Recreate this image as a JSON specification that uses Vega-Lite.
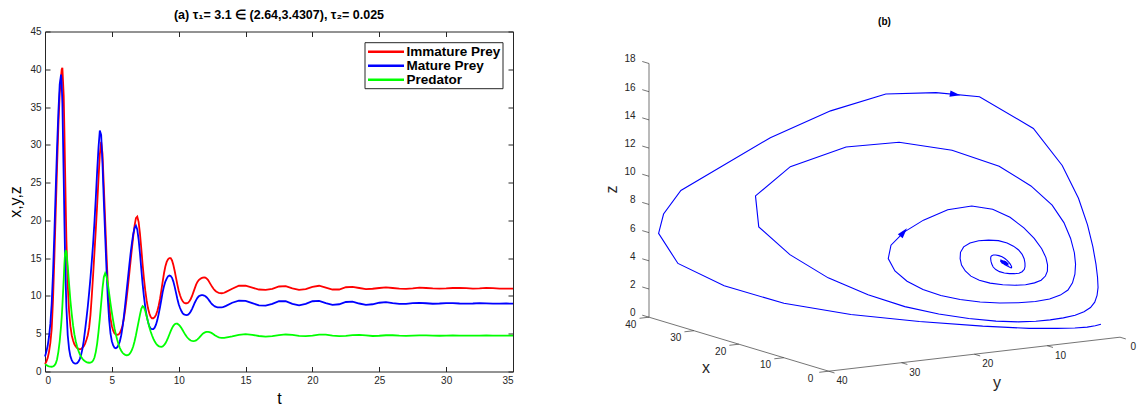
{
  "$schema": "https://vega.github.io/schema/vega-lite/v6.json",
  "padding": {"left": 7, "top": 8.5, "right": 0, "bottom": 0},
  "spacing": 83,
  "config": {
    "view": {"stroke": null},
    "font": "Liberation Sans",
    "axis": {
      "domainColor": "#262626", "tickColor": "#262626", "labelColor": "#262626",
      "labelFont": "Liberation Sans", "labelFontSize": 10,
      "titleFont": "Liberation Sans", "titleFontSize": 16, "titleFontWeight": "normal", "titleColor": "#000000",
      "tickSize": -5, "labelPadding": 9, "grid": false, "domainWidth": 1, "tickWidth": 1, "titlePadding": 5
    }
  },
  "datasets": {
    "sim": [
      {"t":0.0,"x":1.0,"y":2.0,"z":0.95},{"t":0.1,"x":1.3,"y":2.6,"z":0.85},{"t":0.2,"x":1.8,"y":3.4,"z":0.75},{"t":0.3,"x":2.6,"y":4.6,"z":0.68},
      {"t":0.4,"x":3.8,"y":6.3,"z":0.64},{"t":0.5,"x":5.6,"y":9.0,"z":0.63},{"t":0.6,"x":9.5,"y":13.0,"z":0.66},{"t":0.7,"x":15.0,"y":18.3,"z":0.78},
      {"t":0.8,"x":21.0,"y":24.0,"z":1.05},{"t":0.9,"x":27.0,"y":29.5,"z":1.6},{"t":1.0,"x":32.5,"y":34.3,"z":2.6},{"t":1.1,"x":36.8,"y":38.0,"z":4.0},
      {"t":1.2,"x":39.0,"y":39.3,"z":6.0},{"t":1.25,"x":40.0,"y":38.0,"z":7.2},{"t":1.3,"x":40.2,"y":35.5,"z":8.7},{"t":1.4,"x":36.5,"y":25.5,"z":12.2},
      {"t":1.45,"x":32.0,"y":20.0,"z":14.2},{"t":1.5,"x":27.0,"y":15.5,"z":15.6},{"t":1.55,"x":22.0,"y":11.7,"z":15.95},
      {"t":1.6,"x":17.5,"y":8.5,"z":15.9},{"t":1.7,"x":11.5,"y":4.8,"z":14.0},{"t":1.8,"x":8.0,"y":3.0,"z":11.6},{"t":1.9,"x":6.0,"y":2.0,"z":9.4},
      {"t":2.0,"x":4.8,"y":1.5,"z":7.6},{"t":2.1,"x":4.1,"y":1.2,"z":6.1},{"t":2.2,"x":3.6,"y":1.08,"z":4.9},{"t":2.3,"x":3.3,"y":1.05,"z":4.0},
      {"t":2.4,"x":3.1,"y":1.1,"z":3.3},{"t":2.5,"x":3.0,"y":1.3,"z":2.75},{"t":2.6,"x":2.95,"y":1.65,"z":2.3},{"t":2.7,"x":3.0,"y":2.2,"z":1.95},
      {"t":2.8,"x":3.15,"y":3.0,"z":1.68},{"t":2.9,"x":3.35,"y":4.1,"z":1.48},{"t":3.0,"x":3.7,"y":5.5,"z":1.35},{"t":3.1,"x":4.2,"y":7.0,"z":1.25},
      {"t":3.2,"x":4.8,"y":8.6,"z":1.19},{"t":3.3,"x":5.8,"y":10.4,"z":1.16},{"t":3.4,"x":7.5,"y":12.4,"z":1.17},{"t":3.5,"x":10.0,"y":14.6,"z":1.25},
      {"t":3.6,"x":12.8,"y":17.0,"z":1.45},{"t":3.7,"x":15.8,"y":19.8,"z":1.85},{"t":3.8,"x":18.8,"y":23.0,"z":2.6},{"t":3.9,"x":22.0,"y":26.5,"z":3.7},
      {"t":4.0,"x":25.5,"y":29.6,"z":5.2},{"t":4.1,"x":28.7,"y":31.9,"z":7.0},{"t":4.2,"x":30.4,"y":31.3,"z":9.0},{"t":4.3,"x":28.8,"y":27.5,"z":11.0},
      {"t":4.4,"x":24.5,"y":22.5,"z":12.5},{"t":4.5,"x":20.0,"y":18.0,"z":13.0},{"t":4.6,"x":15.5,"y":13.5,"z":12.6},{"t":4.7,"x":11.5,"y":9.5,"z":11.6},
      {"t":4.8,"x":8.8,"y":6.8,"z":10.3},{"t":4.9,"x":7.0,"y":5.0,"z":9.0},{"t":5.0,"x":6.0,"y":4.0,"z":7.8},{"t":5.1,"x":5.4,"y":3.45,"z":6.7},
      {"t":5.2,"x":5.05,"y":3.15,"z":5.7},{"t":5.3,"x":4.9,"y":3.08,"z":4.9},{"t":5.4,"x":4.85,"y":3.2,"z":4.2},{"t":5.5,"x":4.9,"y":3.5,"z":3.6},
      {"t":5.6,"x":5.1,"y":4.0,"z":3.1},{"t":5.7,"x":5.5,"y":4.8,"z":2.75},{"t":5.8,"x":6.1,"y":5.9,"z":2.48},{"t":5.9,"x":7.0,"y":7.3,"z":2.3},
      {"t":6.0,"x":8.2,"y":8.9,"z":2.2},{"t":6.1,"x":9.6,"y":10.6,"z":2.15},{"t":6.2,"x":11.2,"y":12.3,"z":2.17},{"t":6.3,"x":12.9,"y":14.0,"z":2.28},
      {"t":6.4,"x":14.6,"y":15.6,"z":2.5},{"t":6.5,"x":16.3,"y":17.0,"z":2.85},{"t":6.6,"x":17.9,"y":18.2,"z":3.35},{"t":6.7,"x":19.3,"y":19.0,"z":4.0},
      {"t":6.8,"x":20.3,"y":19.3,"z":4.8},{"t":6.9,"x":20.5,"y":18.8,"z":5.7},{"t":7.0,"x":19.8,"y":17.5,"z":6.6},{"t":7.1,"x":18.3,"y":15.7,"z":7.5},
      {"t":7.2,"x":16.3,"y":13.6,"z":8.3},{"t":7.3,"x":14.2,"y":11.6,"z":8.65},{"t":7.4,"x":12.3,"y":9.9,"z":8.5},{"t":7.5,"x":10.7,"y":8.5,"z":8.0},
      {"t":7.6,"x":9.4,"y":7.4,"z":7.3},{"t":7.7,"x":8.4,"y":6.6,"z":6.6},{"t":7.8,"x":7.7,"y":6.0,"z":5.9},{"t":7.9,"x":7.25,"y":5.7,"z":5.3},
      {"t":8.0,"x":7.05,"y":5.6,"z":4.8},{"t":8.1,"x":7.05,"y":5.62,"z":4.35},{"t":8.2,"x":7.2,"y":5.8,"z":4.0},{"t":8.3,"x":7.5,"y":6.2,"z":3.7},
      {"t":8.4,"x":8.0,"y":6.8,"z":3.5},{"t":8.5,"x":8.7,"y":7.6,"z":3.35},{"t":8.6,"x":9.6,"y":8.5,"z":3.28},{"t":8.7,"x":10.7,"y":9.5,"z":3.27},
      {"t":8.8,"x":11.9,"y":10.5,"z":3.33},{"t":8.9,"x":13.0,"y":11.3,"z":3.48},{"t":9.0,"x":13.9,"y":11.9,"z":3.72},{"t":9.1,"x":14.5,"y":12.3,"z":4.05},
      {"t":9.2,"x":14.85,"y":12.6,"z":4.45},{"t":9.3,"x":15.0,"y":12.7,"z":4.9},{"t":9.4,"x":15.0,"y":12.65,"z":5.35},{"t":9.5,"x":14.7,"y":12.4,"z":5.75},
      {"t":9.6,"x":14.1,"y":11.9,"z":6.05},{"t":9.7,"x":13.3,"y":11.2,"z":6.25},{"t":9.8,"x":12.4,"y":10.4,"z":6.33},{"t":9.9,"x":11.5,"y":9.6,"z":6.33},
      {"t":10.0,"x":10.7,"y":8.9,"z":6.2},{"t":10.1,"x":10.1,"y":8.4,"z":6.0},{"t":10.2,"x":9.6,"y":8.0,"z":5.75},{"t":10.3,"x":9.3,"y":7.7,"z":5.45},
      {"t":10.4,"x":9.1,"y":7.55,"z":5.15},{"t":10.5,"x":9.03,"y":7.48,"z":4.85},{"t":10.6,"x":9.03,"y":7.47,"z":4.6},{"t":10.7,"x":9.1,"y":7.52,"z":4.4},
      {"t":10.8,"x":9.3,"y":7.7,"z":4.22},{"t":10.9,"x":9.6,"y":7.95,"z":4.1},{"t":11.0,"x":10.0,"y":8.3,"z":4.05},{"t":11.1,"x":10.5,"y":8.7,"z":4.03},
      {"t":11.2,"x":11.0,"y":9.1,"z":4.05},{"t":11.3,"x":11.5,"y":9.45,"z":4.12},{"t":11.4,"x":11.85,"y":9.75,"z":4.25},{"t":11.5,"x":12.1,"y":9.95,"z":4.42},
      {"t":11.6,"x":12.25,"y":10.05,"z":4.62},{"t":11.7,"x":12.35,"y":10.1,"z":4.82},{"t":11.8,"x":12.42,"y":10.1,"z":5.0},{"t":11.9,"x":12.45,"y":10.05,"z":5.12},
      {"t":12.0,"x":12.42,"y":9.95,"z":5.2},{"t":12.1,"x":12.3,"y":9.8,"z":5.24},{"t":12.2,"x":12.1,"y":9.6,"z":5.25},{"t":12.3,"x":11.8,"y":9.35,"z":5.22},
      {"t":12.4,"x":11.5,"y":9.1,"z":5.15},{"t":12.5,"x":11.2,"y":8.9,"z":5.05},{"t":12.6,"x":10.95,"y":8.75,"z":4.93},{"t":12.7,"x":10.75,"y":8.62,"z":4.8},
      {"t":12.8,"x":10.6,"y":8.55,"z":4.7},{"t":12.9,"x":10.48,"y":8.5,"z":4.6},{"t":13.0,"x":10.4,"y":8.48,"z":4.53},{"t":13.1,"x":10.37,"y":8.48,"z":4.48},
      {"t":13.2,"x":10.36,"y":8.5,"z":4.45},{"t":13.3,"x":10.37,"y":8.52,"z":4.44},{"t":13.4,"x":10.42,"y":8.58,"z":4.45},{"t":13.5,"x":10.5,"y":8.66,"z":4.48},
      {"t":14.0,"x":10.95,"y":9.1,"z":4.65},{"t":14.5,"x":11.35,"y":9.38,"z":4.85},{"t":15.0,"x":11.35,"y":9.35,"z":4.95},{"t":15.5,"x":11.1,"y":9.05,"z":4.85},
      {"t":16.0,"x":10.85,"y":8.75,"z":4.7},{"t":16.5,"x":10.8,"y":8.72,"z":4.62},{"t":17.0,"x":10.95,"y":8.95,"z":4.68},{"t":17.5,"x":11.25,"y":9.3,"z":4.82},
      {"t":18.0,"x":11.3,"y":9.3,"z":4.9},{"t":18.5,"x":11.0,"y":8.95,"z":4.85},{"t":19.0,"x":10.8,"y":8.75,"z":4.72},{"t":19.5,"x":10.9,"y":8.95,"z":4.68},
      {"t":20.0,"x":11.2,"y":9.3,"z":4.75},{"t":20.5,"x":11.35,"y":9.35,"z":4.88},{"t":21.0,"x":11.1,"y":9.05,"z":4.88},{"t":21.5,"x":10.85,"y":8.82,"z":4.75},
      {"t":22.0,"x":10.85,"y":8.9,"z":4.68},{"t":22.5,"x":11.15,"y":9.2,"z":4.72},{"t":23.0,"x":11.2,"y":9.25,"z":4.82},{"t":23.5,"x":11.05,"y":9.0,"z":4.85},
      {"t":24.0,"x":10.9,"y":8.83,"z":4.77},{"t":24.5,"x":10.95,"y":8.9,"z":4.7},{"t":25.0,"x":11.05,"y":9.1,"z":4.73},{"t":25.5,"x":11.13,"y":9.18,"z":4.8},
      {"t":26.0,"x":11.05,"y":9.05,"z":4.8},{"t":26.5,"x":10.97,"y":8.95,"z":4.75},{"t":27.0,"x":10.93,"y":8.95,"z":4.72},{"t":27.5,"x":11.0,"y":9.05,"z":4.75},
      {"t":28.0,"x":11.1,"y":9.08,"z":4.78},{"t":28.5,"x":11.05,"y":9.03,"z":4.77},{"t":29.0,"x":11.0,"y":8.97,"z":4.74},{"t":29.5,"x":10.98,"y":9.0,"z":4.73},
      {"t":30.0,"x":11.0,"y":9.05,"z":4.75},{"t":30.5,"x":11.05,"y":9.05,"z":4.77},{"t":31.0,"x":11.08,"y":9.0,"z":4.76},{"t":31.5,"x":11.03,"y":8.98,"z":4.74},
      {"t":32.0,"x":10.98,"y":9.0,"z":4.74},{"t":32.5,"x":11.0,"y":9.04,"z":4.76},{"t":33.0,"x":11.06,"y":9.02,"z":4.77},{"t":33.5,"x":11.04,"y":8.98,"z":4.75},
      {"t":34.0,"x":10.98,"y":8.98,"z":4.74},{"t":34.5,"x":10.97,"y":9.0,"z":4.75},{"t":35.0,"x":10.97,"y":8.98,"z":4.76}
    ],
    "frame": [
      {"x1":40,"y1":40,"z1":0,"x2":40,"y2":40,"z2":18},
      {"x1":40,"y1":40,"z1":0,"x2":0,"y2":40,"z2":0},
      {"x1":0,"y1":40,"z1":0,"x2":0,"y2":0,"z2":0},
      {"x1":40,"y1":40,"z1":0,"x2":41.5,"y2":40,"z2":0},
      {"x1":40,"y1":40,"z1":2,"x2":41.5,"y2":40,"z2":2},
      {"x1":40,"y1":40,"z1":4,"x2":41.5,"y2":40,"z2":4},
      {"x1":40,"y1":40,"z1":6,"x2":41.5,"y2":40,"z2":6},
      {"x1":40,"y1":40,"z1":8,"x2":41.5,"y2":40,"z2":8},
      {"x1":40,"y1":40,"z1":10,"x2":41.5,"y2":40,"z2":10},
      {"x1":40,"y1":40,"z1":12,"x2":41.5,"y2":40,"z2":12},
      {"x1":40,"y1":40,"z1":14,"x2":41.5,"y2":40,"z2":14},
      {"x1":40,"y1":40,"z1":16,"x2":41.5,"y2":40,"z2":16},
      {"x1":40,"y1":40,"z1":18,"x2":41.5,"y2":40,"z2":18},
      {"x1":0,"y1":40,"z1":0,"x2":0,"y2":41.3,"z2":0},
      {"x1":10,"y1":40,"z1":0,"x2":10,"y2":41.3,"z2":0},
      {"x1":20,"y1":40,"z1":0,"x2":20,"y2":41.3,"z2":0},
      {"x1":30,"y1":40,"z1":0,"x2":30,"y2":41.3,"z2":0},
      {"x1":40,"y1":40,"z1":0,"x2":40,"y2":41.3,"z2":0},
      {"x1":0,"y1":0,"z1":0,"x2":-1.3,"y2":0,"z2":0},
      {"x1":0,"y1":10,"z1":0,"x2":-1.3,"y2":10,"z2":0},
      {"x1":0,"y1":20,"z1":0,"x2":-1.3,"y2":20,"z2":0},
      {"x1":0,"y1":30,"z1":0,"x2":-1.3,"y2":30,"z2":0},
      {"x1":0,"y1":40,"z1":0,"x2":-1.3,"y2":40,"z2":0}
    ],
    "ticklabels": [
      {"axis":"z","label":"0","x":43,"y":40,"z":0},{"axis":"z","label":"2","x":43,"y":40,"z":2},{"axis":"z","label":"4","x":43,"y":40,"z":4},
      {"axis":"z","label":"6","x":43,"y":40,"z":6},{"axis":"z","label":"8","x":43,"y":40,"z":8},{"axis":"z","label":"10","x":43,"y":40,"z":10},
      {"axis":"z","label":"12","x":43,"y":40,"z":12},{"axis":"z","label":"14","x":43,"y":40,"z":14},{"axis":"z","label":"16","x":43,"y":40,"z":16},
      {"axis":"z","label":"18","x":43,"y":40,"z":18},
      {"axis":"x","label":"0","x":0,"y":42.5,"z":-0.4},{"axis":"x","label":"10","x":10,"y":42.5,"z":-0.4},{"axis":"x","label":"20","x":20,"y":42.5,"z":-0.4},
      {"axis":"x","label":"30","x":30,"y":42.5,"z":-0.4},{"axis":"x","label":"40","x":40,"y":42.5,"z":-0.4},
      {"axis":"y","label":"0","x":-2.97,"y":0,"z":-0.42},{"axis":"y","label":"10","x":-2.97,"y":10,"z":-0.42},{"axis":"y","label":"20","x":-2.97,"y":20,"z":-0.42},
      {"axis":"y","label":"30","x":-2.97,"y":30,"z":-0.42},{"axis":"y","label":"40","x":-2.97,"y":40,"z":-0.42}
    ],
    "axistitles": [
      {"axis":"x","label":"x","x":20,"y":44.5,"z":-1.45},
      {"axis":"y","label":"y","x":-5.05,"y":20,"z":-1.55},
      {"axis":"z","label":"z","x":48.2,"y":40,"z":8.27}
    ],
    "arrows": [
      {"id":1,"x":20.0,"y":10.3,"z":15.93},
      {"id":2,"x":19.8,"y":17.5,"z":6.6}
    ]
  },
  "hconcat": [
    {
      "title": {"text": "(a) τ₁= 3.1 ∈ (2.64,3.4307), τ₂= 0.025", "fontSize": 12.5, "fontWeight": "bold", "font": "Liberation Sans", "offset": 5.5, "color": "#000000"},
      "width": 468,
      "height": 340,
      "data": {"name": "sim"},
      "transform": [{"fold": ["x", "y", "z"], "as": ["var", "value"]}],
      "layer": [
        {
          "mark": {"type": "line", "strokeWidth": 1.8},
          "encoding": {
            "x": {"field": "t", "type": "quantitative", "scale": {"domain": [0, 35], "nice": false, "zero": false},
                  "axis": {"values": [0, 5, 10, 15, 20, 25, 30, 35], "title": "t", "orient": "bottom"}},
            "y": {"field": "value", "type": "quantitative", "scale": {"domain": [0, 45], "nice": false},
                  "axis": {"values": [0, 5, 10, 15, 20, 25, 30, 35, 40, 45], "title": "x,y,z", "orient": "left", "titlePadding": 6}},
            "color": {"field": "var", "type": "nominal",
                      "scale": {"domain": ["x", "y", "z"], "range": ["#ff0000", "#0000ff", "#00ff00"]},
                      "legend": {"orient": "none", "legendX": 319.5, "legendY": 10.7, "title": null,
                                 "symbolType": "M-3,0L3,0", "symbolSize": 144, "symbolOffset": 12, "symbolStrokeWidth": 2.5,
                                 "labelFont": "Liberation Sans", "labelFontSize": 13.5, "labelFontWeight": "bold", "labelColor": "#000000",
                                 "strokeColor": "#262626", "fillColor": "#ffffff", "padding": 2, "rowPadding": 0, "labelOffset": 13,
                                 "labelExpr": "datum.value == 'x' ? 'Immature Prey' : datum.value == 'y' ? 'Mature Prey' : 'Predator'"}}
          }
        },
        {
          "mark": {"type": "line", "opacity": 0},
          "encoding": {
            "x": {"field": "t", "type": "quantitative",
                  "axis": {"values": [0, 5, 10, 15, 20, 25, 30, 35], "title": null, "orient": "top", "labels": false}},
            "y": {"field": "value", "type": "quantitative",
                  "axis": {"values": [0, 5, 10, 15, 20, 25, 30, 35, 40, 45], "title": null, "orient": "right", "labels": false}},
            "detail": {"field": "var"}
          }
        }
      ],
      "resolve": {"axis": {"x": "independent", "y": "independent"}}
    },
    {
      "title": {"text": "(b)", "fontSize": 10, "fontWeight": "bold", "font": "Liberation Sans", "offset": 5, "dx": 15, "color": "#000000"},
      "width": 539,
      "height": 368,
      "layer": [
        {
          "data": {"name": "frame"},
          "transform": [
            {"calculate": "-4.4925*datum.x1 - 7.2825*datum.y1", "as": "u1"},
            {"calculate": "1.35*datum.x1 - 0.85*datum.y1 + 14.094*datum.z1", "as": "w1"},
            {"calculate": "-4.4925*datum.x2 - 7.2825*datum.y2", "as": "u2"},
            {"calculate": "1.35*datum.x2 - 0.85*datum.y2 + 14.094*datum.z2", "as": "w2"}
          ],
          "mark": {"type": "rule", "color": "#3a3a3a", "strokeWidth": 0.7},
          "encoding": {
            "x": {"field": "u1", "type": "quantitative", "scale": {"domain": [-520, 19], "nice": false, "zero": false}, "axis": null},
            "y": {"field": "w1", "type": "quantitative", "scale": {"domain": [-62.3, 305.7], "nice": false, "zero": false}, "axis": null},
            "x2": {"field": "u2"},
            "y2": {"field": "w2"}
          }
        },
        {
          "data": {"name": "sim"},
          "transform": [
            {"calculate": "-4.4925*datum.x - 7.2825*datum.y", "as": "u"},
            {"calculate": "1.35*datum.x - 0.85*datum.y + 14.094*datum.z", "as": "w"}
          ],
          "mark": {"type": "line", "color": "#0000ff", "strokeWidth": 1.1},
          "encoding": {
            "x": {"field": "u", "type": "quantitative", "axis": null},
            "y": {"field": "w", "type": "quantitative", "axis": null},
            "order": {"field": "t", "type": "quantitative"}
          }
        },
        {
          "data": {"name": "arrows"},
          "transform": [
            {"filter": "datum.id == 1"},
            {"calculate": "-4.4925*datum.x - 7.2825*datum.y", "as": "u"},
            {"calculate": "1.35*datum.x - 0.85*datum.y + 14.094*datum.z", "as": "w"}
          ],
          "mark": {"type": "point", "shape": "M1,0L-1,-0.6L-1,0.6Z", "filled": true, "color": "#0000ff", "opacity": 1, "size": 110, "angle": 10},
          "encoding": {
            "x": {"field": "u", "type": "quantitative", "axis": null},
            "y": {"field": "w", "type": "quantitative", "axis": null}
          }
        },
        {
          "data": {"name": "arrows"},
          "transform": [
            {"filter": "datum.id == 2"},
            {"calculate": "-4.4925*datum.x - 7.2825*datum.y", "as": "u"},
            {"calculate": "1.35*datum.x - 0.85*datum.y + 14.094*datum.z", "as": "w"}
          ],
          "mark": {"type": "point", "shape": "M1,0L-1,-0.6L-1,0.6Z", "filled": true, "color": "#0000ff", "opacity": 1, "size": 110, "angle": 310},
          "encoding": {
            "x": {"field": "u", "type": "quantitative", "axis": null},
            "y": {"field": "w", "type": "quantitative", "axis": null}
          }
        },
        {
          "data": {"name": "ticklabels"},
          "transform": [
            {"filter": "datum.axis == 'z'"},
            {"calculate": "-4.4925*datum.x - 7.2825*datum.y", "as": "u"},
            {"calculate": "1.35*datum.x - 0.85*datum.y + 14.094*datum.z", "as": "w"}
          ],
          "mark": {"type": "text", "align": "right", "baseline": "middle", "fontSize": 10, "font": "Liberation Sans", "color": "#262626"},
          "encoding": {
            "x": {"field": "u", "type": "quantitative", "axis": null},
            "y": {"field": "w", "type": "quantitative", "axis": null},
            "text": {"field": "label"}
          }
        },
        {
          "data": {"name": "ticklabels"},
          "transform": [
            {"filter": "datum.axis != 'z'"},
            {"calculate": "-4.4925*datum.x - 7.2825*datum.y", "as": "u"},
            {"calculate": "1.35*datum.x - 0.85*datum.y + 14.094*datum.z", "as": "w"}
          ],
          "mark": {"type": "text", "align": "center", "baseline": "middle", "fontSize": 10, "font": "Liberation Sans", "color": "#262626"},
          "encoding": {
            "x": {"field": "u", "type": "quantitative", "axis": null},
            "y": {"field": "w", "type": "quantitative", "axis": null},
            "text": {"field": "label"}
          }
        },
        {
          "data": {"name": "axistitles"},
          "transform": [
            {"filter": "datum.axis != 'z'"},
            {"calculate": "-4.4925*datum.x - 7.2825*datum.y", "as": "u"},
            {"calculate": "1.35*datum.x - 0.85*datum.y + 14.094*datum.z", "as": "w"}
          ],
          "mark": {"type": "text", "align": "center", "baseline": "middle", "fontSize": 16, "font": "Liberation Sans", "color": "#262626"},
          "encoding": {
            "x": {"field": "u", "type": "quantitative", "axis": null},
            "y": {"field": "w", "type": "quantitative", "axis": null},
            "text": {"field": "label"}
          }
        },
        {
          "data": {"name": "axistitles"},
          "transform": [
            {"filter": "datum.axis == 'z'"},
            {"calculate": "-4.4925*datum.x - 7.2825*datum.y", "as": "u"},
            {"calculate": "1.35*datum.x - 0.85*datum.y + 14.094*datum.z", "as": "w"}
          ],
          "mark": {"type": "text", "align": "center", "baseline": "middle", "fontSize": 16, "font": "Liberation Sans", "color": "#262626", "angle": 270},
          "encoding": {
            "x": {"field": "u", "type": "quantitative", "axis": null},
            "y": {"field": "w", "type": "quantitative", "axis": null},
            "text": {"field": "label"}
          }
        }
      ]
    }
  ]
}
